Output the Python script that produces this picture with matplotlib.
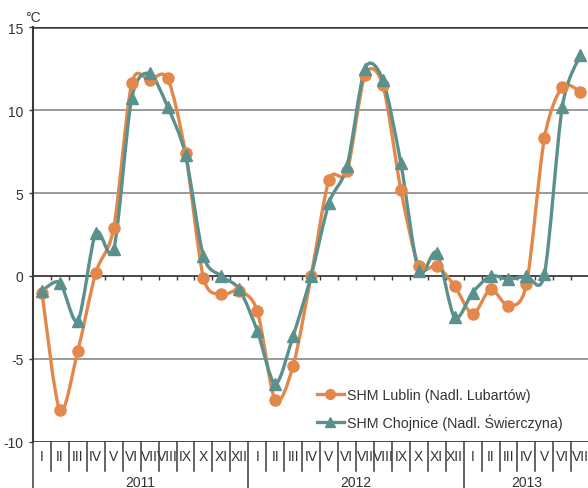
import matplotlib
matplotlib.use("Agg")
import matplotlib.pyplot as plt
from matplotlib.path import Path
from matplotlib.patches import PathPatch
from matplotlib.lines import Line2D

plt.rcParams['font.family'] = ['Liberation Sans', 'DejaVu Sans']

# dane: srednie miesieczne temperatury (I 2011 - VII 2013)
years = ['2011', '2012', '2013']
months = ['I', 'II', 'III', 'IV', 'V', 'VI', 'VII', 'VIII', 'IX', 'X', 'XI', 'XII']
n_months = 31

lublin = [-1.0, -8.1, -4.5, 0.2, 2.9, 11.6, 11.8, 11.9, 7.4, -0.1, -1.1, -0.9,
          -2.1, -7.5, -5.4, 0.0, 5.8, 6.3, 12.1, 11.5, 5.2, 0.6, 0.6, -0.6,
          -2.3, -0.8, -1.8, -0.5, 8.3, 11.4, 11.1]
chojnice = [-0.9, -0.4, -2.7, 2.6, 1.6, 10.7, 12.2, 10.2, 7.3, 1.2, 0.0, -0.8,
            -3.3, -6.5, -3.6, 0.0, 4.4, 6.6, 12.5, 11.8, 6.8, 0.3, 1.4, -2.5,
            -1.0, 0.0, -0.2, 0.0, 0.1, 10.2, 13.3]

label_lublin = 'SHM Lublin (Nadl. Lubartów)'
label_chojnice = 'SHM Chojnice (Nadl. Świerczyna)'

c_orange = '#E4874B'
c_teal = '#5B918D'
c_dark = '#3a3a3a'


def smooth_path(xs, ys, k=7.0):
    """Krzywa Beziera przez punkty (jak 'wygladzona linia' w Excelu)"""
    pts = list(zip(xs, ys))
    verts = [pts[0]]
    codes = [Path.MOVETO]
    for i in range(len(pts) - 1):
        p0 = pts[i - 1] if i > 0 else pts[i]
        p1 = pts[i]
        p2 = pts[i + 1]
        p3 = pts[i + 2] if i + 2 < len(pts) else pts[i + 1]
        c1 = (p1[0] + (p2[0] - p0[0]) / k, p1[1] + (p2[1] - p0[1]) / k)
        c2 = (p2[0] - (p3[0] - p1[0]) / k, p2[1] - (p3[1] - p1[1]) / k)
        verts += [c1, c2, p2]
        codes += [Path.CURVE4] * 3
    return Path(verts, codes)


fig = plt.figure(figsize=(5.88, 4.89), dpi=100)
ax = fig.add_axes([0.0561, 0.0941, 0.946, 0.8486])

x = [i + 0.5 for i in range(n_months)]

ax.set_xlim(0, n_months)
ax.set_ylim(-10, 15)

# siatka
for v in [-5, 5, 10]:
    ax.axhline(v, color='#7f7f7f', lw=1.1, zorder=1)
ax.axhline(0, color=c_dark, lw=1.3, zorder=1)
ax.axhline(15, color=c_dark, lw=1.8, zorder=1)
ax.axhline(-10, color=c_dark, lw=1.3, zorder=1)

# znaczniki na osi zero
bounds = list(range(1, n_months))
ax.plot(bounds, [0] * len(bounds), linestyle='none', marker=3, ms=3,
        mew=1, color=c_dark, zorder=1)

for ys, col, mk, ms in [(lublin, c_orange, 'o', 8), (chojnice, c_teal, '^', 8)]:
    ax.add_patch(PathPatch(smooth_path(x, ys), fill=False, edgecolor=col,
                           lw=2.4, zorder=3, capstyle='round'))
    ax.plot(x, ys, linestyle='none', marker=mk, ms=ms, color=col, zorder=4)

# os Y
for s in ['top', 'right', 'bottom']:
    ax.spines[s].set_visible(False)
ax.spines['left'].set_color(c_dark)
ax.spines['left'].set_linewidth(1.5)
ax.set_yticks([-10, -5, 0, 5, 10, 15])
ax.set_yticklabels(['-10', '-5', '0', '5', '10', '15'])
ax.tick_params(axis='y', direction='out', length=3, width=1, color=c_dark,
               labelsize=10, labelcolor='#333333', pad=4)
ax.text(0.0, 15.2, '°C', ha='center', va='bottom', fontsize=10,
        color='#333333')

# os X - miesiace i lata pod wykresem
ax.set_xticks([])
xt = ax.get_xaxis_transform()
for i in range(n_months + 1):
    if i % 12 == 0:
        ax.plot([i, i], [0, -0.12], color=c_dark, lw=1.1, transform=xt, clip_on=False)
    else:
        ax.plot([i, i], [0, -0.07], color=c_dark, lw=1.1, transform=xt, clip_on=False)
for i in range(n_months):
    ax.text(i + 0.5, -0.034, months[i % 12], transform=xt, ha='center',
            va='center', fontsize=10, color='#333333', clip_on=False)
for k, yr in enumerate(years):
    start = k * 12
    end = min(start + 12, n_months)
    ax.text((start + end) / 2, -0.097, yr, transform=xt, ha='center',
            va='center', fontsize=10, color='#333333')

handles = [
    Line2D([], [], color=c_orange, marker='o', ms=7, lw=2.4),
    Line2D([], [], color=c_teal, marker='^', ms=7, lw=2.4),
]
ax.legend(handles, [label_lublin, label_chojnice], loc='upper left',
          bbox_to_anchor=(0.5, 0.143), frameon=False, fontsize=10.3,
          handlelength=1.9, handletextpad=0.2, labelspacing=0.75,
          labelcolor='#333333', borderaxespad=0)

fig.savefig('out.png', dpi=100)
